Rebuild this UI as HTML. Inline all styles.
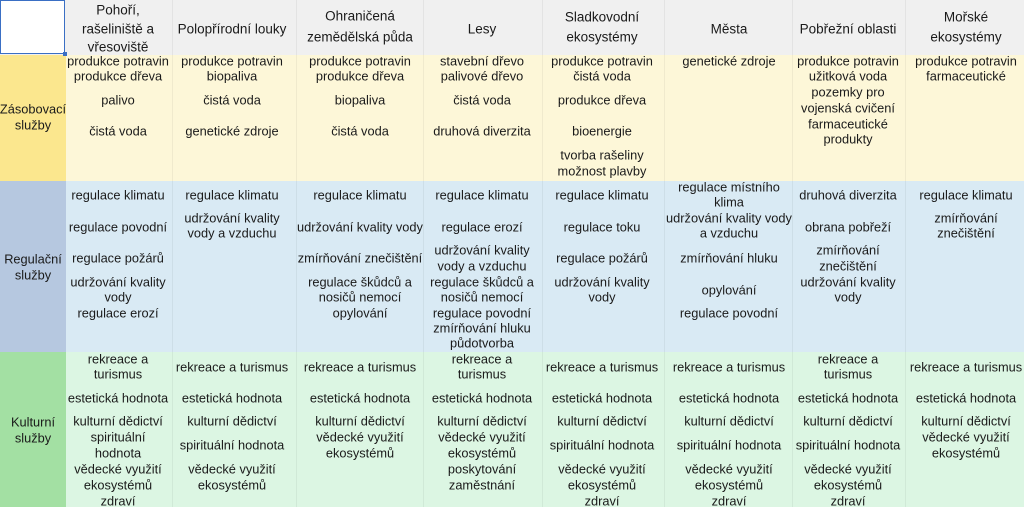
<!DOCTYPE html>
<html><head><meta charset="utf-8">
<style>
body{margin:0;width:1024px;height:513px;position:relative;overflow:hidden;background:#fff;font-family:"Liberation Sans","DejaVu Sans",sans-serif;}
.bg{position:absolute;}
.t{position:absolute;transform:translate(-50%,-50%);white-space:nowrap;font-size:12.8px;color:#1a1a1a;line-height:1;}
.h{font-size:13.5px;}
.vl{position:absolute;top:0;width:1px;height:507px;background:rgba(0,0,0,0.05);}
</style></head><body>
<div class="bg" style="left:0;top:0;width:1024px;height:55px;background:#f0f0f0"></div>
<div class="bg" style="left:66px;top:55px;width:958px;height:126px;background:#fdf7d8"></div>
<div class="bg" style="left:0;top:55px;width:66px;height:126px;background:#fbe78e"></div>
<div class="bg" style="left:66px;top:181px;width:958px;height:171px;background:#d9eaf4"></div>
<div class="bg" style="left:0;top:181px;width:66px;height:171px;background:#b6c8e0"></div>
<div class="bg" style="left:66px;top:352px;width:958px;height:155px;background:#dcf6e3"></div>
<div class="bg" style="left:0;top:352px;width:66px;height:155px;background:#a3e0a3"></div>
<div class="vl" style="left:172px"></div>
<div class="vl" style="left:296px"></div>
<div class="vl" style="left:423px"></div>
<div class="vl" style="left:542px"></div>
<div class="vl" style="left:664px"></div>
<div class="vl" style="left:792px"></div>
<div class="vl" style="left:905px"></div>
<div class="bg" style="left:0;top:0;width:63px;height:52px;border:1.5px solid #3a6fc4;background:#fff"></div>
<div class="bg" style="left:63px;top:52px;width:4px;height:4px;background:#3a6fc4"></div>
<div id="grid"></div>
<script>
const cx=[118,232,360,482,602,729,848,966];
const lines=[
[0,"Pohoří,",10,1],[0,"rašeliniště a",29,1],[0,"vřesoviště",47,1],
[1,"Polopřírodní louky",29,1],
[2,"Ohraničená",16,1],[2,"zemědělská půda",37,1],
[3,"Lesy",29,1],
[4,"Sladkovodní",17,1],[4,"ekosystémy",37,1],
[5,"Města",29,1],[6,"Pobřežní oblasti",29,1],
[7,"Mořské",17,1],[7,"ekosystémy",37,1],
[0,"produkce potravin",62],[0,"produkce dřeva",77],[0,"palivo",101],[0,"čistá voda",132],
[1,"produkce potravin",62],[1,"biopaliva",77],[1,"čistá voda",101],[1,"genetické zdroje",132],
[2,"produkce potravin",62],[2,"produkce dřeva",77],[2,"biopaliva",101],[2,"čistá voda",132],
[3,"stavební dřevo",62],[3,"palivové dřevo",77],[3,"čistá voda",101],[3,"druhová diverzita",132],
[4,"produkce potravin",62],[4,"čistá voda",77],[4,"produkce dřeva",101],[4,"bioenergie",132],[4,"tvorba rašeliny",156],[4,"možnost plavby",172],
[5,"genetické zdroje",62],
[6,"produkce potravin",62],[6,"užitková voda",77],[6,"pozemky pro",93],[6,"vojenská cvičení",109],[6,"farmaceutické",125],[6,"produkty",140],
[7,"produkce potravin",62],[7,"farmaceutické",77],
[0,"regulace klimatu",196],[0,"regulace povodní",228],[0,"regulace požárů",259],[0,"udržování kvality",283],[0,"vody",298],[0,"regulace erozí",314],
[1,"regulace klimatu",196],[1,"udržování kvality",219],[1,"vody a vzduchu",234],
[2,"regulace klimatu",196],[2,"udržování kvality vody",228],[2,"zmírňování znečištění",259],[2,"regulace škůdců a",283],[2,"nosičů nemocí",298],[2,"opylování",314],
[3,"regulace klimatu",196],[3,"regulace erozí",228],[3,"udržování kvality",251],[3,"vody a vzduchu",267],[3,"regulace škůdců a",283],[3,"nosičů nemocí",298],[3,"regulace povodní",314],[3,"zmírňování hluku",329],[3,"půdotvorba",344],
[4,"regulace klimatu",196],[4,"regulace toku",228],[4,"regulace požárů",259],[4,"udržování kvality",283],[4,"vody",298],
[5,"regulace místního",188],[5,"klima",203],[5,"udržování kvality vody",219],[5,"a vzduchu",234],[5,"zmírňování hluku",259],[5,"opylování",291],[5,"regulace povodní",314],
[6,"druhová diverzita",196],[6,"obrana pobřeží",228],[6,"zmírňování",251],[6,"znečištění",267],[6,"udržování kvality",283],[6,"vody",298],
[7,"regulace klimatu",196],[7,"zmírňování",219],[7,"znečištění",234],
[0,"rekreace a",360],[0,"turismus",375],[0,"estetická hodnota",399],[0,"kulturní dědictví",422],[0,"spirituální",438],[0,"hodnota",454],[0,"vědecké využití",470],[0,"ekosystémů",486],[0,"zdraví",502],
[1,"rekreace a turismus",368],[1,"estetická hodnota",399],[1,"kulturní dědictví",422],[1,"spirituální hodnota",446],[1,"vědecké využití",470],[1,"ekosystémů",486],
[2,"rekreace a turismus",368],[2,"estetická hodnota",399],[2,"kulturní dědictví",422],[2,"vědecké využití",438],[2,"ekosystémů",454],
[3,"rekreace a",360],[3,"turismus",375],[3,"estetická hodnota",399],[3,"kulturní dědictví",422],[3,"vědecké využití",438],[3,"ekosystémů",454],[3,"poskytování",470],[3,"zaměstnání",486],
[4,"rekreace a turismus",368],[4,"estetická hodnota",399],[4,"kulturní dědictví",422],[4,"spirituální hodnota",446],[4,"vědecké využití",470],[4,"ekosystémů",486],[4,"zdraví",502],
[5,"rekreace a turismus",368],[5,"estetická hodnota",399],[5,"kulturní dědictví",422],[5,"spirituální hodnota",446],[5,"vědecké využití",470],[5,"ekosystémů",486],[5,"zdraví",502],
[6,"rekreace a",360],[6,"turismus",375],[6,"estetická hodnota",399],[6,"kulturní dědictví",422],[6,"spirituální hodnota",446],[6,"vědecké využití",470],[6,"ekosystémů",486],[6,"zdraví",502],
[7,"rekreace a turismus",368],[7,"estetická hodnota",399],[7,"kulturní dědictví",422],[7,"vědecké využití",438],[7,"ekosystémů",454]
];
const rowLabels=[["Zásobovací",110],["služby",126],["Regulační",260],["služby",276],["Kulturní",423],["služby",439]];
const g=document.getElementById('grid');
lines.forEach(l=>{
  const d=document.createElement('div');
  d.className='t'+(l[3]?' h':'');
  d.style.left=cx[l[0]]+'px';d.style.top=l[2]+'px';
  d.textContent=l[1];
  
  
  g.appendChild(d);
});
rowLabels.forEach(l=>{
  const d=document.createElement('div');
  d.className='t';
  d.style.left='33px';d.style.top=l[1]+'px';
  d.textContent=l[0];
  
  
  g.appendChild(d);
});
</script>
</body></html>
